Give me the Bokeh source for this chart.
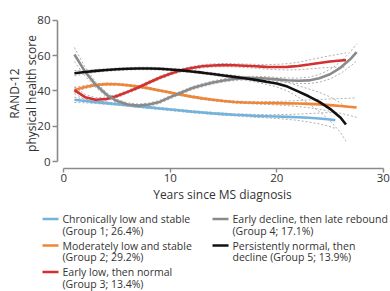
from bokeh.plotting import figure
from bokeh.models import Range1d, FixedTicker
from bokeh.core.properties import value
from bokeh.embed import file_html
from bokeh.resources import INLINE

# ---------------- data ----------------
g1_years = [1, 2, 3, 4, 5, 6, 7, 8, 9, 10, 11, 12, 13, 14, 15, 16, 17, 18, 19, 20, 21, 22, 23, 24, 25, 25.5]
g1_score = [35.0, 34.3, 33.7, 33.1, 32.5, 31.9, 31.3, 30.7, 30.1, 29.5, 28.9, 28.3, 27.8, 27.3, 26.9,
            26.5, 26.2, 25.9, 25.7, 25.5, 25.3, 25.1, 24.8, 24.4, 23.8, 23.4]
g1_ci = [1.5, 1.0, 0.8, 0.7, 0.6, 0.6, 0.6, 0.6, 0.6, 0.6, 0.6, 0.6, 0.6, 0.6, 0.6,
         0.6, 0.7, 0.8, 0.9, 1.1, 1.4, 1.8, 2.4, 3.1, 4.0, 4.6]

g2_years = [1, 2, 3, 4, 5, 6, 7, 8, 9, 10, 11, 12, 13, 14, 15, 16, 17, 18, 19, 20, 21, 22, 23, 24, 25, 26, 27, 27.5]
g2_score = [40.5, 42.3, 43.4, 43.9, 43.8, 43.3, 42.5, 41.5, 40.3, 39.1, 37.9, 36.8, 35.8, 35.0, 34.3,
            33.8, 33.5, 33.3, 33.2, 33.1, 33.0, 32.9, 32.7, 32.4, 32.0, 31.5, 30.9, 30.6]
g2_ci = [1.5, 0.9, 0.7, 0.6, 0.6, 0.6, 0.6, 0.6, 0.6, 0.6, 0.6, 0.6, 0.6, 0.6, 0.6,
         0.6, 0.6, 0.7, 0.8, 1.0, 1.3, 1.7, 2.2, 2.8, 3.5, 4.2, 5.0, 5.5]

g3_years = [1, 2, 3, 4, 5, 6, 7, 8, 9, 10, 11, 12, 13, 14, 15, 16, 17, 18, 19, 20, 21, 22, 23, 24, 25, 26, 26.5]
g3_score = [40.5, 36.5, 35.0, 35.5, 37.2, 39.5, 42.0, 44.8, 47.5, 49.8, 51.7, 53.0, 54.0, 54.5, 54.7,
            54.6, 54.3, 54.0, 53.7, 53.6, 53.7, 54.2, 55.0, 55.9, 56.7, 57.3, 57.5]
g3_ci = [2.0, 1.5, 1.2, 1.0, 0.9, 0.9, 0.9, 0.9, 0.9, 0.9, 0.9, 0.9, 0.9, 0.9, 0.9,
         0.9, 1.0, 1.1, 1.3, 1.5, 1.8, 2.1, 2.5, 2.9, 3.3, 3.8, 4.1]

g4_years = [1, 2, 3, 4, 5, 6, 7, 8, 9, 10, 11, 12, 13, 14, 15, 16, 17, 18, 19, 20, 21, 22, 23, 24, 25, 26, 27, 27.5]
g4_score = [60.7, 51.0, 43.5, 38.0, 34.3, 32.3, 31.7, 32.3, 33.8, 36.5, 39.0, 41.5, 43.3, 44.8, 46.0,
            46.8, 47.3, 47.4, 47.1, 46.6, 46.1, 45.8, 46.0, 47.2, 49.5, 53.3, 58.6, 62.0]
g4_ci = [4.0, 2.5, 1.6, 1.2, 1.0, 0.9, 0.9, 0.9, 0.9, 0.9, 0.9, 0.9, 0.9, 0.9, 0.9,
         0.9, 0.9, 0.9, 1.0, 1.1, 1.3, 1.5, 1.8, 2.2, 2.7, 3.3, 4.2, 4.8]

g5_years = [1, 2, 3, 4, 5, 6, 7, 8, 9, 10, 11, 12, 13, 14, 15, 16, 17, 18, 19, 20, 21, 22, 23, 24, 25, 26, 26.5]
g5_score = [50.1, 50.8, 51.4, 51.9, 52.3, 52.6, 52.8, 52.8, 52.6, 52.2, 51.7, 51.1, 50.4, 49.6, 48.8,
            48.0, 47.2, 46.3, 45.3, 44.2, 42.5, 39.8, 37.0, 33.8, 29.9, 24.8, 21.0]
g5_ci = [1.5, 1.0, 0.8, 0.7, 0.7, 0.7, 0.7, 0.7, 0.7, 0.7, 0.7, 0.7, 0.7, 0.7, 0.8,
         0.9, 1.0, 1.2, 1.5, 1.9, 2.5, 3.2, 4.2, 5.4, 6.8, 8.4, 9.5]

group_colors = ["#74b3de", "#ef8535", "#d3302f", "#8a8a8a", "#111111"]
legend_line1 = ["Chronically low and stable", "Moderately low and stable", "Early low, then normal",
                "Early decline, then late rebound", "Persistently normal, then"]
legend_line2 = ["(Group 1; 26.4%)", "(Group 2; 29.2%)", "(Group 3; 13.4%)",
                "(Group 4; 17.1%)", "decline (Group 5; 13.9%)"]

x_ticks = [0, 10, 20, 30]
y_ticks = [0, 20, 40, 60, 80]

FONT = "Open Sans"
TEXT = "#333333"
AXIS = "#8a8a8a"

groups = [
    (g1_years, g1_score, g1_ci),
    (g2_years, g2_score, g2_ci),
    (g3_years, g3_score, g3_ci),
    (g4_years, g4_score, g4_ci),
    (g5_years, g5_score, g5_ci),
]

# ---------------- main chart ----------------
p = figure(output_backend="svg", toolbar_location=None, width=390, height=208,
           x_range=Range1d(-0.59, 30.4), y_range=Range1d(-3.97, 81.13),
           min_border_left=57, min_border_right=3, min_border_top=18, min_border_bottom=40)
p.outline_line_color = None
p.grid.visible = False
p.background_fill_color = "white"
p.border_fill_color = "white"

for (yrs, sc, ci), col in zip(groups, group_colors):
    up = [s + c for s, c in zip(sc, ci)]
    lo = [s - c for s, c in zip(sc, ci)]
    p.line(yrs, up, line_color="#9a9a9a", line_width=0.8, line_dash="2 2")
    p.line(yrs, lo, line_color="#9a9a9a", line_width=0.8, line_dash="2 2")

for (yrs, sc, ci), col in zip(groups, group_colors):
    p.line(yrs, sc, line_color=col, line_width=2.6)

for ax in (p.xaxis[0], p.yaxis[0]):
    ax.axis_line_color = AXIS
    ax.axis_line_width = 1.6
    ax.major_tick_line_color = AXIS
    ax.major_tick_line_width = 1.4
    ax.major_tick_in = 0
    ax.minor_tick_line_color = None
    ax.major_label_text_font = FONT
    ax.major_label_text_font_size = "11.5px"
    ax.major_label_text_color = TEXT
    ax.axis_label_text_font = FONT
    ax.axis_label_text_font_size = "12px"
    ax.axis_label_text_font_style = "normal"
    ax.axis_label_text_color = TEXT
    ax.axis_label_text_line_height = 1.0

p.xaxis[0].bounds = (0, 30)
p.yaxis[0].bounds = (0, 80)
p.xaxis[0].ticker = FixedTicker(ticks=x_ticks)
p.yaxis[0].ticker = FixedTicker(ticks=y_ticks)
p.xaxis[0].major_tick_out = 4
p.yaxis[0].major_tick_out = 5
p.xaxis[0].major_label_standoff = 1
p.yaxis[0].major_label_standoff = 2
p.xaxis[0].axis_label = "Years since MS diagnosis"
p.xaxis[0].axis_label_standoff = 1
p.yaxis[0].axis_label = "RAND-12\nphysical health score"
p.yaxis[0].axis_label_standoff = -6

# ---------------- legend (separate root, pixel-mapped ranges) ----------------
LH = 83
lg = figure(output_backend="svg", toolbar_location=None, width=390, height=LH,
            x_range=Range1d(0, 390), y_range=Range1d(208 + LH, 208),
            x_axis_location=None, y_axis_location=None, min_border=0)
lg.grid.visible = False
lg.outline_line_color = None
lg.background_fill_color = "white"
lg.border_fill_color = "white"

col_x = [42, 212]
row_y = [218.5, 245, 271.5]
for i in range(5):
    cx = col_x[0] if i < 3 else col_x[1]
    ry = row_y[i] if i < 3 else row_y[i - 3]
    lg.segment(x0=[cx], y0=[ry], x1=[cx + 16], y1=[ry], line_color=group_colors[i], line_width=2.6)
    lg.text(x=[cx + 20], y=[ry], text=[legend_line1[i]], text_font=value(FONT),
            text_font_size="10.5px", text_color=TEXT, text_baseline="middle")
    lg.text(x=[cx + 20], y=[ry + 11.5], text=[legend_line2[i]], text_font=value(FONT),
            text_font_size="10.5px", text_color=TEXT, text_baseline="middle")

open("out.html", "w").write(file_html([p, lg], INLINE))
